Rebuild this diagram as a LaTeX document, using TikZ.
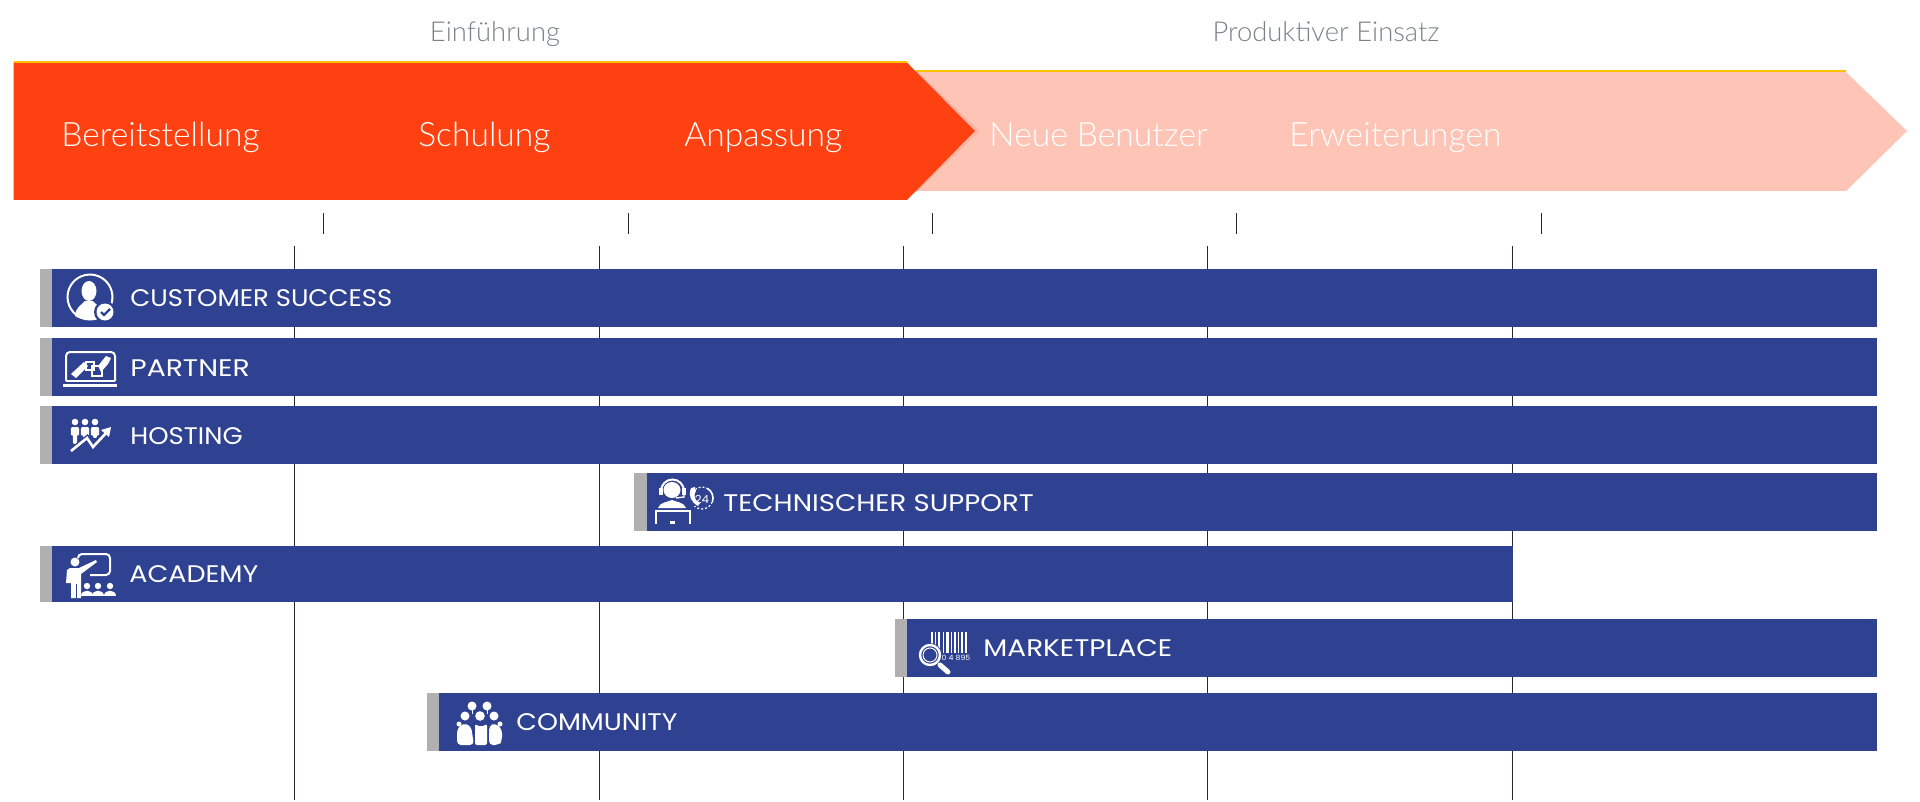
\documentclass[tikz,border=0pt]{standalone}
\usepackage{fontspec}
\setmainfont{Lato Light}
\newfontfamily\barFont[FakeStretch=1.08]{Poppins}
\usetikzlibrary{positioning}
\definecolor{phaseRed}{RGB}{255,65,17}
\definecolor{phasePink}{RGB}{254,197,183}
\definecolor{phasePale}{RGB}{255,178,160}
\definecolor{phaseLine}{RGB}{255,192,0}
\definecolor{barBlue}{RGB}{47,65,145}
\definecolor{barGrey}{RGB}{176,176,176}
\definecolor{headGrey}{RGB}{125,127,138}
\definecolor{tickColor}{RGB}{40,40,50}
\tikzstyle{timeline} = [x = .5pt, y = -.5pt]
\tikzstyle{phaseText} = [font=\fontsize{16.8}{19}\selectfont, text=white, anchor=base west, inner sep=0]
\tikzstyle{headText} = [font=\fontsize{13.7}{15}\selectfont, text=headGrey, anchor=base, inner sep=0]
\tikzstyle{barText} = [font=\barFont\fontsize{12}{14}\selectfont, text=white, anchor=base west, inner sep=0]
\tikzstyle{iconText} = [font=\barFont, text=white, inner sep=0]
\tikzstyle{tickLine} = [color=tickColor, line width=.5pt]
\tikzstyle{iconLine} = [color=white, line width=1pt]
\newcommand{\serviceBar}[6]{
  \fill [barGrey] (#1,#3) rectangle (#2,#4);
  \fill [barBlue] (#2,#3) rectangle (#5,#4);
  #6
}
\newcommand{\barLabel}[5]{\node [barText] (#1) at (#2,#3) {\scalebox{#4}[1]{#5}};}
%icons
\newcommand{\personIcon}[2]{
  \fill [white] (#1,422) circle (3.3);
  \fill [white, rounded corners=1] (#1 - 4.2, 427) -- (#1 + 4.2, 427) -- (#1 + 4.2, 436) -- (#1 + 2.2, 434) -- (#1 + 2.2, #2) -- (#1 - 2.2, #2) -- (#1 - 2.2, 434) -- (#1 - 4.2, 436) -- cycle;
}
\newcommand{\customerIcon}{
  \draw [iconLine] (90,297) circle (22.5);
  \fill [white] (89,291) ellipse (7.5 and 10);
  \fill [white] (75,316) .. controls (76,306) and (82,305) .. (85,301) -- (93,301) .. controls (96,305) and (100,306) .. (102,310) -- (98,319) .. controls (90,321) and (81,320) .. (75,316) -- cycle;
  \fill [barBlue] (105,312) circle (11);
  \fill [white] (105,312) circle (8.5);
  \draw [color=barBlue, line width=1.1pt] (101,312) -- (104,315) -- (110,309);
}
\newcommand{\partnerIcon}{
  \draw [iconLine, rounded corners=2] (66,381) -- (66,352) -- (115,352) -- (115,381);
  \draw [iconLine] (66,381) -- (115,381);
  \fill [white] (63,384) rectangle (117,387);
  \fill [white] (71,374) -- (84,362) -- (88,366) -- (76,378) -- cycle;
  \draw [color=white, line width=.7pt] (86,362) rectangle (94,370);
  \draw [color=white, line width=.7pt] (92,366) rectangle (102,376);
  \fill [white] (98,366) -- (106,356) -- (111,358) -- (108,364) -- (101,372) -- cycle;
}
\newcommand{\hostingIcon}{
  \personIcon{75}{444}
  \personIcon{85}{438}
  \personIcon{95}{438}
  \draw [color=barBlue, line width=2.6pt] (71,451) -- (87,438) -- (93,447) -- (108,431);
  \draw [iconLine, line width=1.3pt] (71,451) -- (87,438) -- (93,447) -- (108,431);
  \fill [white] (111,427) -- (109,437) -- (101,430) -- cycle;
}
\newcommand{\supportIcon}{
  \fill [white] (672,490) ellipse (8.5 and 8);
  \draw [iconLine] (661,491) arc (180:360:11.5);
  \fill [white] (659,488) rectangle (663,495);
  \fill [white] (682,488) rectangle (686,495);
  \draw [color=white, line width=.7pt] (684,495) -- (684,497) -- (676,498);
  \fill [white] (658,508) .. controls (660,502) and (668,502) .. (672,500) .. controls (676,502) and (684,502) .. (686,508) -- cycle;
  \draw [iconLine] (656,524) -- (656,511) -- (690,511) -- (690,524);
  \fill [white] (670,524) rectangle (675,521);
  \draw [iconLine, line width=.6pt, dash pattern=on 1pt off 1pt] (702,498) circle (11);
  \draw [iconLine, line width=.8pt] (702,498) ++(-60:11) arc (-60:20:11);
  \fill [barBlue] (686,486) rectangle (696,506);
  \fill [white] (691,488) .. controls (688,496) and (691,502) .. (698,506) -- (700,503) -- (696,500) .. controls (694,497) and (694,494) .. (696,491) -- (695,487) -- cycle;
  \node [iconText] (supportHours) at (702,499) {\fontsize{5.5}{6}\selectfont 24};
}
\newcommand{\academyIcon}{
  \draw [iconLine, rounded corners=2] (78,558) -- (78,554) -- (110,554) -- (110,575) -- (90,575);
  \fill [white] (75,562) circle (4.5);
  \fill [white] (66,583) -- (67,570) -- (70,568) -- (79,568) -- (96,560) -- (97,562) -- (81,574) -- (81,598) -- (71,598) -- (71,583) -- cycle;
  \draw [color=barBlue, line width=.5pt] (76,584) -- (76,598);
  \foreach \headPos in {87,98,110} {
    \fill [white] (\headPos,586) circle (3.2);
    \fill [white] (\headPos - 6, 596) .. controls (\headPos - 6, 589) and (\headPos + 6, 589) .. (\headPos + 6, 596) -- cycle;
  }
}
\newcommand{\marketIcon}{
  \foreach \barPos/\barWidth in {931/1.5,935/1,938/2,943/1,946/2.5,951/1,954/1.5,958/1,961/2,965/1.5} {
    \fill [white] (\barPos,632) rectangle +(\barWidth,21);
  }
  \node [iconText] (marketCode) at (956,658) {\fontsize{3.6}{4}\selectfont 0 4 895};
  \fill [barBlue] (930,655) circle (12);
  \draw [iconLine, line width=1.2pt] (930,655) circle (10);
  \draw [iconLine, line width=.5pt] (930,655) circle (7);
  \draw [color=white, line width=2.5pt, line cap=round] (940,665) -- (948,672);
}
\newcommand{\communityIcon}{
  \fill [white] (472,706) circle (4.5);
  \fill [white] (487,706) circle (4.5);
  \draw [color=white, line width=.5pt] (472,710) -- (472,714);
  \draw [color=white, line width=.5pt] (487,710) -- (487,714);
  \fill [white] (465,716) circle (4.5);
  \fill [white] (480,716) circle (4.8);
  \fill [white] (494,716) circle (4.5);
  \fill [white] (459,724) circle (2.5);
  \fill [white] (500,724) circle (2.5);
  \fill [white, rounded corners=2] (457,745) -- (457,729) -- (463,723) -- (471,726) -- (474,745) -- cycle;
  \fill [white, rounded corners=1] (475,745) -- (475,724) -- (481,727) -- (487,724) -- (487,745) -- cycle;
  \fill [white, rounded corners=2] (489,745) -- (489,726) -- (495,723) -- (502,729) -- (502,741) -- (499,745) -- cycle;
}
\begin{document}
\begin{tikzpicture}[timeline]
  \useasboundingbox (0,0) rectangle (1920,802);
  %timeline
  \foreach \tickPos in {294,599,903,1207.5,1512.5} {
    \draw [tickLine] (\tickPos,246) -- (\tickPos,800);
  }
  \foreach \tickPos in {323,628,932,1236.5,1541.5} {
    \draw [tickLine] (\tickPos,213) -- (\tickPos,234);
  }
  %phases
  \fill [phasePink] (916,72) -- (1846,72) -- (1907,131) -- (1846,191) -- (916,191) -- (975,131) -- cycle;
  \draw [phaseLine, line width=1.2pt] (916,71) -- (1846,71);
  \draw [phasePale, line width=1pt] (916,72) -- (978,131) -- (916,191);
  \fill [phaseRed] (13.5,62.5) -- (907,62.5) -- (975,131) -- (907,200) -- (13.5,200) -- cycle;
  \draw [phaseLine, line width=1pt] (13.5,62) -- (907,62);
  \node [headText] (introHead) at (495,42) {Einführung};
  \node [headText] (prodHead) at (1326,42) {Produktiver Einsatz};
  \node [phaseText] (provision) at (61,147) {Bereitstellung};
  \node [phaseText] (training) at (418,147) {Schulung};
  \node [phaseText] (customizing) at (684,147) {Anpassung};
  \node [phaseText] (newUsers) at (989,147) {Neue Benutzer};
  \node [phaseText] (extensions) at (1289,147) {Erweiterungen};
  %services
  \serviceBar{40}{52}{269}{327}{1877}{\customerIcon}
  \barLabel{customerLabel}{130}{306}{1}{CUSTOMER SUCCESS}
  \serviceBar{40}{52}{338}{396}{1877}{\partnerIcon}
  \barLabel{partnerLabel}{130}{376}{1.09}{PARTNER}
  \serviceBar{40}{52}{406}{464}{1877}{\hostingIcon}
  \barLabel{hostingLabel}{130}{444}{1}{HOSTING}
  \serviceBar{634}{647}{473}{531}{1877}{\supportIcon}
  \barLabel{supportLabel}{723}{511}{1.063}{TECHNISCHER SUPPORT}
  \serviceBar{40}{52}{546}{602}{1512.5}{\academyIcon}
  \barLabel{academyLabel}{129}{582}{1.04}{ACADEMY}
  \serviceBar{895}{907}{619}{677}{1877}{\marketIcon}
  \barLabel{marketLabel}{983}{656}{1.077}{MARKETPLACE}
  \serviceBar{427}{439}{693}{751}{1877}{\communityIcon}
  \barLabel{communityLabel}{516}{730}{1.03}{COMMUNITY}
\end{tikzpicture}
\end{document}
